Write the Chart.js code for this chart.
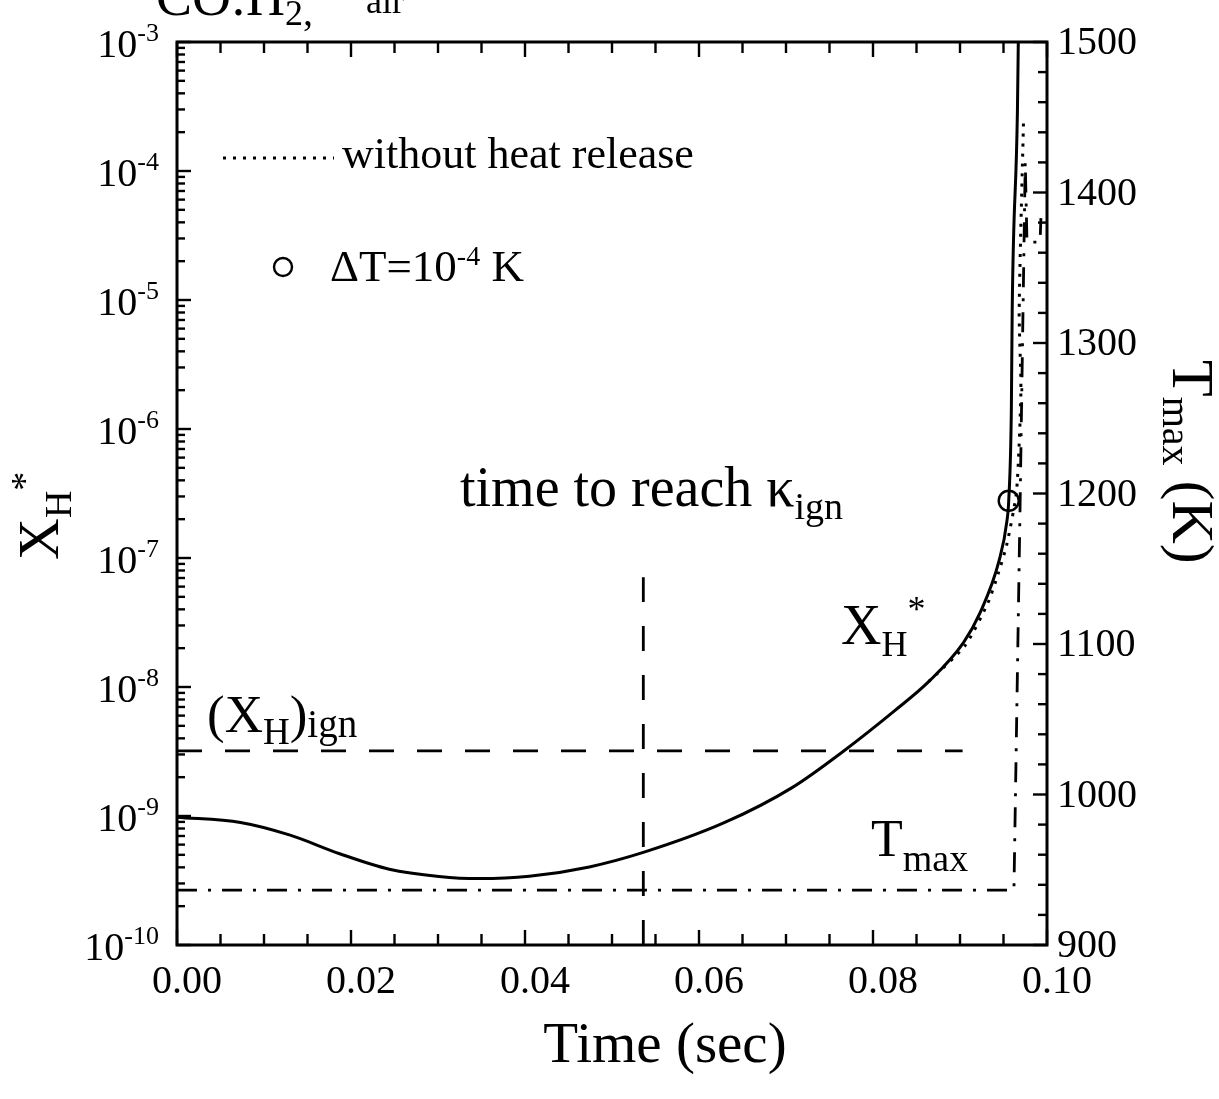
<!DOCTYPE html>
<html>
<head>
<meta charset="utf-8">
<script src="https://cdn.jsdelivr.net/npm/chart.js@4.4.1/dist/chart.umd.min.js"></script>
<style>
html,body{margin:0;padding:0;background:#fff;}
#wrap{width:1219px;height:1099px;position:relative;}
canvas{display:block;}
</style>
</head>
<body>
<div id="wrap"><canvas id="c" width="1219" height="1099"></canvas></div>
<script>
// ---------- data ----------
// X_H* (with heat release), solid
const tXH = [0, 0.0073, 0.0130, 0.0187, 0.0244, 0.0301, 0.0347, 0.0405, 0.0474, 0.0536, 0.0629, 0.0707, 0.0766, 0.0825, 0.0864, 0.0904, 0.0923, 0.0945, 0.0954, 0.0956, 0.0959, 0.0960, 0.0966, 0.0967];
const XH  = [9.8e-10, 8.9e-10, 7.1e-10, 5.1e-10, 3.87e-10, 3.40e-10, 3.27e-10, 3.41e-10, 4.03e-10, 5.22e-10, 8.87e-10, 1.66e-9, 3.18e-9, 6.56e-9, 1.10e-8, 2.21e-8, 3.75e-8, 9.57e-8, 1.95e-7, 2.78e-7, 1.39e-6, 8.3e-6, 2.9e-4, 1.0e-3];
// X_H without heat release, dotted
const tXHnoHeat = [0.0864, 0.0906, 0.0932, 0.0944, 0.0954, 0.0965, 0.0970, 0.0968, 0.0973];
const XHnoHeat  = [1.10e-8, 2.1e-8, 4.47e-8, 7.6e-8, 1.29e-7, 3.3e-7, 1.97e-6, 8.2e-6, 2.45e-4];
// T_max, dash-dot (right axis)
const tTmax = [0, 0.0962, 0.0969, 0.0975, 0.0977, 0.0992, 0.0993];
const Tmax  = [936.5, 936.4, 1190, 1420, 1367, 1367, 1383];
// (X_H)ign level, dashed
const tIgn  = [0, 0.0903];
const XHign = [3.2e-9, 3.2e-9];
// time to reach kappa_ign, dashed vertical
const tKappa = [0.0536, 0.0536];
const XKappa = [1e-10, 7.1e-8];
// Delta T = 1e-4 K marker
const tMark = [0.0956];
const XMark = [2.78e-7];
// axis ticks
const xTickVals = [0, 0.02, 0.04, 0.06, 0.08, 0.10];
const xTickText = ['0.00', '0.02', '0.04', '0.06', '0.08', '0.10'];
const yExps = [-10, -9, -8, -7, -6, -5, -4, -3];
const y2TickVals = [900, 1000, 1100, 1200, 1300, 1400, 1500];

const FONT = '"Liberation Serif", "Times New Roman", serif';
const pts = (xs, ys) => xs.map((v, i) => ({x: v, y: ys[i]}));

function runs(ctx, x, y, parts, align) {
  let w = 0;
  parts.forEach(p => { ctx.font = p[1] + 'px ' + FONT; w += ctx.measureText(p[0]).width; });
  let cx = align === 'right' ? x - w : align === 'center' ? x - w / 2 : x;
  parts.forEach(p => {
    ctx.font = p[1] + 'px ' + FONT;
    ctx.fillText(p[0], cx, y + (p[2] || 0));
    cx += ctx.measureText(p[0]).width;
  });
}
function seg(ctx, x1, y1, x2, y2) { ctx.beginPath(); ctx.moveTo(x1, y1); ctx.lineTo(x2, y2); ctx.stroke(); }

const decor = {
  id: 'decor',
  afterDraw(chart) {
    const ctx = chart.ctx;
    const {left, right, top, bottom} = chart.chartArea;
    const {x, y, y2} = chart.scales;
    ctx.save();
    ctx.strokeStyle = '#000'; ctx.fillStyle = '#000';
    ctx.lineWidth = 3;
    ctx.strokeRect(left, top, right - left, bottom - top);
    ctx.lineWidth = 2.4;
    // x ticks (bottom & top), inward
    for (let k = 0; k <= 20; k++) {
      const v = k * 0.005;
      const px = x.getPixelForValue(v);
      const len = (k % 4 === 0) ? 15 : 11;
      seg(ctx, px, bottom, px, bottom - len);
      seg(ctx, px, top, px, top + len);
    }
    // left log ticks
    yExps.forEach((e, i) => {
      const py = y.getPixelForValue(Math.pow(10, e));
      seg(ctx, left, py, left + 14, py);
      if (i < yExps.length - 1) {
        for (let m = 2; m <= 9; m++) {
          const pm = y.getPixelForValue(m * Math.pow(10, e));
          seg(ctx, left, pm, left + 8, pm);
        }
      }
    });
    // right linear ticks
    for (let T = 900; T <= 1500; T += 20) {
      const py = y2.getPixelForValue(T);
      const len = (T % 100 === 0) ? 14 : 9;
      seg(ctx, right, py, right - len, py);
    }
    // tick labels
    ctx.textBaseline = 'alphabetic';
    xTickVals.forEach((v, i) => runs(ctx, x.getPixelForValue(v) + 10, bottom + 48, [[xTickText[i], 40]], 'center'));
    yExps.forEach(e => {
      const py = y.getPixelForValue(Math.pow(10, e));
      runs(ctx, left - 18, py + 15, [['10', 40], [String(e), 26, -16]], 'right');
    });
    y2TickVals.forEach(T => runs(ctx, right + 10, y2.getPixelForValue(T) + 12, [[String(T), 40]], 'left'));
    // axis titles
    runs(ctx, 665, 1062, [['Time (sec)', 57]], 'center');
    ctx.save(); ctx.translate(58, 560); ctx.rotate(-Math.PI / 2);
    runs(ctx, 0, 0, [['X', 58], ['H', 38, 13], ['*', 38, -21]], 'left');
    ctx.restore();
    ctx.save(); ctx.translate(1173, 360); ctx.rotate(Math.PI / 2);
    runs(ctx, 0, 0, [['T', 60], ['max', 40, 10], [' (K)', 60]], 'left');
    ctx.restore();
    // top (cut) title
    runs(ctx, 156, 15, [['CO:H', 54], ['2', 36, 10], [',', 40, 10]], 'left');
    runs(ctx, 366, 13, [['air', 36]], 'left');
    // annotations
    ctx.save();
    ctx.lineWidth = 2.8; ctx.setLineDash([3, 7]);
    seg(ctx, 223, 158, 334, 158);
    ctx.restore();
    runs(ctx, 342, 168, [['without heat release', 44]], 'left');
    ctx.lineWidth = 2.4;
    ctx.beginPath(); ctx.arc(283, 267, 9, 0, Math.PI * 2); ctx.stroke();
    runs(ctx, 330, 281, [['\u0394T=10', 45], ['-4', 28, -16], [' K', 45]], 'left');
    runs(ctx, 460, 506, [['time to reach \u03BA', 56], ['ign', 38, 13]], 'left');
    runs(ctx, 207, 732, [['(X', 53], ['H', 37, 12], [')', 53], ['ign', 39, 5]], 'left');
    runs(ctx, 841, 644, [['X', 56], ['H', 36, 12], ['*', 36, -23]], 'left');
    runs(ctx, 871, 856, [['T', 52], ['max', 38, 15]], 'left');
    ctx.restore();
  }
};

new Chart(document.getElementById('c'), {
  type: 'scatter',
  data: {
    datasets: [
      {data: pts(tXH, XH), yAxisID: 'y', showLine: true, borderColor: '#000', borderWidth: 3, pointRadius: 0, cubicInterpolationMode: 'monotone'},
      {data: pts(tXHnoHeat, XHnoHeat), yAxisID: 'y', showLine: true, borderColor: '#000', borderWidth: 3, borderDash: [3, 7], pointRadius: 0, tension: 0.2},
      {data: pts(tIgn, XHign), yAxisID: 'y', showLine: true, borderColor: '#000', borderWidth: 2.8, borderDash: [25, 23], pointRadius: 0},
      {data: pts(tKappa, XKappa), yAxisID: 'y', showLine: true, borderColor: '#000', borderWidth: 2.8, borderDash: [25, 24], pointRadius: 0},
      {data: pts(tTmax, Tmax), yAxisID: 'y2', showLine: true, borderColor: '#000', borderWidth: 2.8, borderDash: [20, 11, 3, 11], pointRadius: 0, tension: 0},
      {data: pts(tMark, XMark), yAxisID: 'y', showLine: false, pointRadius: 10, pointStyle: 'circle', borderColor: '#000', borderWidth: 2.4, backgroundColor: 'rgba(0,0,0,0)'}
    ]
  },
  options: {
    responsive: false,
    animation: false,
    devicePixelRatio: 1,
    layout: {padding: {left: 177, right: 172, top: 42, bottom: 154}},
    plugins: {legend: {display: false}, tooltip: {enabled: false}},
    scales: {
      x: {type: 'linear', min: 0, max: 0.1, display: false},
      y: {type: 'logarithmic', min: 1e-10, max: 1e-3, display: false},
      y2: {type: 'linear', min: 900, max: 1500, display: false, position: 'right'}
    }
  },
  plugins: [decor]
});
</script>
</body>
</html>
